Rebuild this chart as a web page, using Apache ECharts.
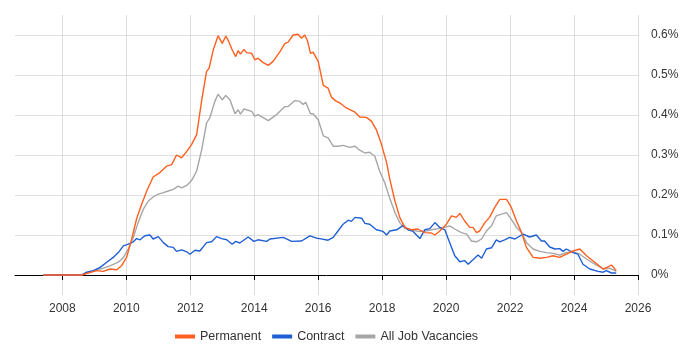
<!DOCTYPE html>
<html>
<head>
<meta charset="utf-8">
<script src="https://cdn.jsdelivr.net/npm/echarts@6/dist/echarts.min.js"></script>
<style>html,body{margin:0;padding:0;background:#fff;}#c{width:700px;height:350px;}</style>
</head>
<body>
<div id="c"></div>
<script>
const seriesNames = ['Permanent', 'Contract', 'All Job Vacancies'];
const xTicks = [2008, 2010, 2012, 2014, 2016, 2018, 2020, 2022, 2024, 2026];
const yTicks = [0, 0.1, 0.2, 0.3, 0.4, 0.5, 0.6];

const permanent = [[2007.41,0],[2008.60,0],[2009.07,0.011],[2009.28,0.009],[2009.49,0.015],[2009.70,0.013],[2009.85,0.023],[2010.01,0.044],[2010.17,0.09],[2010.32,0.14],[2010.48,0.177],[2010.64,0.21],[2010.84,0.245],[2011.05,0.256],[2011.26,0.272],[2011.42,0.276],[2011.57,0.30],[2011.73,0.293],[2011.89,0.309],[2012.04,0.326],[2012.20,0.351],[2012.36,0.438],[2012.51,0.509],[2012.59,0.517],[2012.72,0.563],[2012.87,0.598],[2012.93,0.60],[2013.00,0.579],[2013.11,0.597],[2013.19,0.586],[2013.24,0.587],[2013.31,0.563],[2013.42,0.546],[2013.50,0.561],[2013.57,0.552],[2013.68,0.564],[2013.76,0.556],[2013.92,0.554],[2014.02,0.538],[2014.12,0.542],[2014.28,0.531],[2014.44,0.524],[2014.59,0.534],[2014.80,0.558],[2014.96,0.579],[2015.06,0.582],[2015.22,0.60],[2015.37,0.602],[2015.48,0.592],[2015.58,0.60],[2015.66,0.587],[2015.76,0.554],[2015.84,0.557],[2016.00,0.534],[2016.16,0.474],[2016.31,0.467],[2016.42,0.444],[2016.57,0.434],[2016.68,0.43],[2016.89,0.417],[2017.15,0.407],[2017.30,0.395],[2017.51,0.394],[2017.67,0.384],[2017.82,0.363],[2017.98,0.326],[2018.14,0.281],[2018.24,0.239],[2018.40,0.185],[2018.55,0.144],[2018.71,0.119],[2018.92,0.113],[2019.12,0.115],[2019.33,0.106],[2019.54,0.105],[2019.65,0.10],[2019.80,0.11],[2020.01,0.127],[2020.17,0.148],[2020.32,0.144],[2020.43,0.154],[2020.58,0.135],[2020.74,0.119],[2020.84,0.119],[2020.95,0.106],[2021.05,0.11],[2021.21,0.131],[2021.36,0.144],[2021.52,0.169],[2021.68,0.189],[2021.89,0.189],[2022.04,0.169],[2022.20,0.135],[2022.36,0.106],[2022.51,0.069],[2022.72,0.044],[2022.93,0.042],[2023.14,0.044],[2023.34,0.048],[2023.55,0.044],[2023.76,0.052],[2023.97,0.06],[2024.18,0.065],[2024.39,0.048],[2024.65,0.032],[2024.91,0.015],[2025.03,0.019],[2025.17,0.025],[2025.32,0.011]];

const contract = [[2007.41,0],[2008.60,0],[2008.76,0.007],[2008.97,0.011],[2009.18,0.019],[2009.39,0.032],[2009.59,0.044],[2009.75,0.056],[2009.91,0.073],[2010.06,0.077],[2010.22,0.083],[2010.32,0.091],[2010.43,0.088],[2010.58,0.098],[2010.74,0.10],[2010.84,0.09],[2011.00,0.096],[2011.16,0.081],[2011.31,0.071],[2011.47,0.069],[2011.57,0.059],[2011.73,0.063],[2011.89,0.058],[2011.99,0.052],[2012.15,0.062],[2012.30,0.06],[2012.51,0.081],[2012.67,0.083],[2012.82,0.096],[2012.98,0.091],[2013.14,0.088],[2013.31,0.077],[2013.42,0.084],[2013.55,0.08],[2013.81,0.095],[2013.99,0.084],[2014.12,0.088],[2014.39,0.084],[2014.49,0.09],[2014.91,0.094],[2015.17,0.084],[2015.48,0.085],[2015.74,0.098],[2015.95,0.092],[2016.05,0.091],[2016.31,0.087],[2016.47,0.094],[2016.62,0.11],[2016.78,0.127],[2016.94,0.137],[2017.04,0.134],[2017.15,0.144],[2017.36,0.142],[2017.46,0.129],[2017.61,0.127],[2017.82,0.113],[2018.03,0.109],[2018.14,0.10],[2018.24,0.11],[2018.29,0.113],[2018.45,0.113],[2018.66,0.124],[2018.81,0.113],[2018.97,0.109],[2019.18,0.091],[2019.33,0.113],[2019.49,0.116],[2019.65,0.131],[2019.80,0.119],[2019.96,0.113],[2020.11,0.081],[2020.27,0.048],[2020.43,0.033],[2020.58,0.036],[2020.69,0.027],[2020.84,0.038],[2021.00,0.05],[2021.11,0.042],[2021.26,0.065],[2021.42,0.068],[2021.57,0.088],[2021.68,0.083],[2021.83,0.088],[2021.99,0.094],[2022.15,0.09],[2022.41,0.102],[2022.61,0.095],[2022.82,0.10],[2022.98,0.085],[2023.08,0.085],[2023.24,0.07],[2023.40,0.065],[2023.55,0.066],[2023.66,0.059],[2023.76,0.065],[2023.97,0.056],[2024.12,0.052],[2024.28,0.027],[2024.49,0.015],[2024.75,0.009],[2024.91,0.007],[2025.01,0.011],[2025.17,0.005],[2025.32,0.005]];

const allJobs = [[2007.41,0],[2008.60,0],[2009.07,0.013],[2009.28,0.017],[2009.49,0.023],[2009.75,0.032],[2009.91,0.044],[2010.06,0.065],[2010.22,0.094],[2010.37,0.131],[2010.53,0.164],[2010.69,0.185],[2010.84,0.195],[2011.00,0.202],[2011.16,0.206],[2011.31,0.21],[2011.47,0.214],[2011.62,0.222],[2011.73,0.218],[2011.89,0.224],[2012.04,0.236],[2012.20,0.26],[2012.36,0.314],[2012.51,0.38],[2012.61,0.393],[2012.77,0.434],[2012.87,0.452],[2013.00,0.438],[2013.11,0.449],[2013.24,0.438],[2013.40,0.403],[2013.50,0.413],[2013.57,0.402],[2013.68,0.415],[2013.92,0.409],[2014.02,0.397],[2014.12,0.401],[2014.44,0.386],[2014.70,0.401],[2014.96,0.421],[2015.06,0.421],[2015.27,0.436],[2015.43,0.434],[2015.53,0.426],[2015.61,0.432],[2015.76,0.403],[2015.84,0.403],[2016.00,0.388],[2016.16,0.348],[2016.31,0.343],[2016.47,0.322],[2016.62,0.322],[2016.78,0.324],[2016.99,0.319],[2017.15,0.322],[2017.30,0.312],[2017.46,0.305],[2017.61,0.307],[2017.77,0.297],[2017.92,0.26],[2018.08,0.231],[2018.24,0.191],[2018.40,0.156],[2018.55,0.131],[2018.71,0.116],[2018.92,0.113],[2019.12,0.109],[2019.33,0.109],[2019.54,0.113],[2019.75,0.116],[2019.96,0.119],[2020.11,0.123],[2020.27,0.115],[2020.48,0.106],[2020.64,0.102],[2020.79,0.085],[2020.95,0.083],[2021.11,0.09],[2021.26,0.11],[2021.42,0.123],[2021.57,0.148],[2021.73,0.152],[2021.89,0.156],[2022.04,0.139],[2022.20,0.119],[2022.36,0.106],[2022.51,0.081],[2022.72,0.065],[2022.93,0.059],[2023.14,0.056],[2023.34,0.054],[2023.55,0.05],[2023.76,0.056],[2023.97,0.058],[2024.18,0.052],[2024.39,0.04],[2024.65,0.027],[2024.91,0.015],[2025.11,0.017],[2025.32,0.009]];

const colors = ['#ff5f1f', '#1f5fd6', '#a6a6a6'];
const FONT = '"Liberation Sans", Arial, sans-serif';

const chart = echarts.init(document.getElementById('c'), null, {renderer: 'canvas'});
chart.setOption({
  animation: false,
  color: colors,
  grid: {left: 15, right: 62, top: 15, bottom: 55, containLabel: false},
  legend: {
    top: 325, left: 170,
    icon: 'rect', itemWidth: 20, itemHeight: 4, itemGap: 11,
    textStyle: {fontFamily: FONT, fontSize: 12.5, color: '#333'},
    data: seriesNames
  },
  xAxis: {
    type: 'value', min: 2006.52, max: 2026,
    axisLine: {show: true, lineStyle: {color: '#000', width: 1}},
    axisTick: {show: true, length: 5, lineStyle: {color: '#000'}, customValues: xTicks},
    axisLabel: {customValues: xTicks, margin: 8, fontFamily: FONT, fontSize: 12, color: '#333',
      formatter: v => String(v)},
    splitLine: {show: true, lineStyle: {color: '#dedede', width: 1}, customValues: xTicks}
  },
  yAxis: {
    type: 'value', position: 'right', min: -0.05, max: 0.65,
    axisLine: {show: false},
    axisTick: {show: false, customValues: yTicks},
    axisLabel: {customValues: yTicks, margin: 13, fontFamily: FONT, fontSize: 12, color: '#333',
      formatter: v => (Math.round(v * 10) / 10) + '%'},
    splitLine: {show: true, lineStyle: {color: '#dedede', width: 1}, customValues: yTicks}
  },
  series: [
    {name: seriesNames[0], type: 'line', data: permanent, showSymbol: false, lineStyle: {width: 1.4}, z: 3},
    {name: seriesNames[1], type: 'line', data: contract, showSymbol: false, lineStyle: {width: 1.4}, z: 2},
    {name: seriesNames[2], type: 'line', data: allJobs, showSymbol: false, lineStyle: {width: 1.4}, z: 1}
  ]
});
</script>
</body>
</html>
